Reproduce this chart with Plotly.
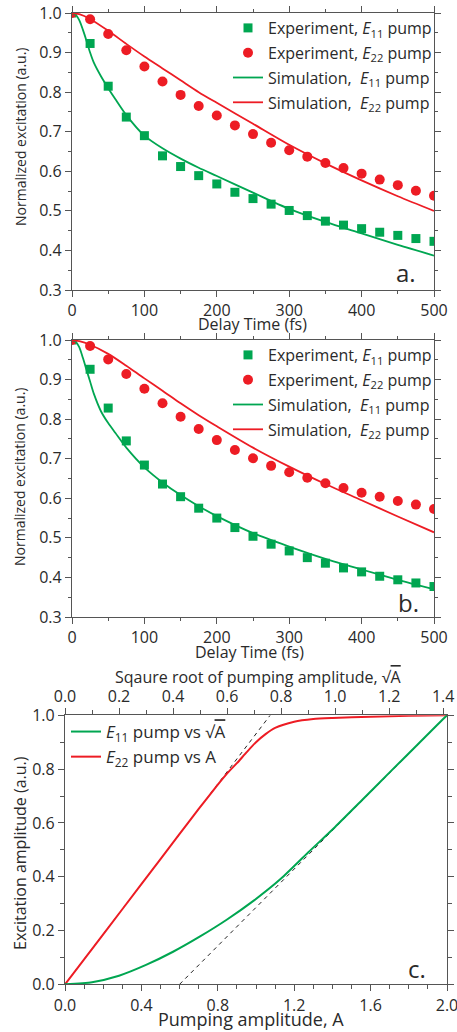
import plotly.graph_objects as go

# ---------------- data ----------------
t_exp = [0, 25, 50, 75, 100, 125, 150, 175, 200, 225, 250, 275, 300, 325, 350, 375, 400, 425, 450, 475, 500]

a_exp_e11 = [1.0, 0.923, 0.815, 0.737, 0.690, 0.639, 0.612, 0.589, 0.568, 0.547, 0.531, 0.517, 0.501, 0.488,
             0.474, 0.464, 0.455, 0.446, 0.438, 0.430, 0.423]
a_exp_e22 = [1.0, 0.984, 0.947, 0.906, 0.865, 0.827, 0.793, 0.765, 0.741, 0.716, 0.694, 0.672, 0.653, 0.637,
             0.621, 0.608, 0.594, 0.579, 0.565, 0.551, 0.538]

b_exp_e11 = [1.0, 0.926, 0.828, 0.745, 0.684, 0.636, 0.604, 0.575, 0.550, 0.526, 0.504, 0.484, 0.467, 0.450,
             0.436, 0.424, 0.414, 0.403, 0.394, 0.386, 0.377]
b_exp_e22 = [1.0, 0.985, 0.951, 0.914, 0.877, 0.840, 0.806, 0.775, 0.747, 0.722, 0.701, 0.682, 0.666, 0.652,
             0.638, 0.626, 0.614, 0.604, 0.593, 0.584, 0.573]

t_sim_e11 = [0, 5, 10, 15, 20, 25, 30, 40, 50, 60, 75, 100, 125, 150, 175, 200, 250, 300, 350, 400, 450, 500]
a_sim_e11 = [1.0, 0.996, 0.982, 0.958, 0.930, 0.900, 0.875, 0.840, 0.810, 0.782, 0.742, 0.690, 0.658, 0.632,
             0.609, 0.588, 0.546, 0.505, 0.472, 0.443, 0.414, 0.387]
b_sim_e11 = [1.0, 0.996, 0.982, 0.955, 0.925, 0.895, 0.865, 0.820, 0.790, 0.765, 0.728, 0.678, 0.640, 0.608,
             0.580, 0.555, 0.512, 0.478, 0.447, 0.420, 0.394, 0.370]

t_sim_e22 = [0, 10, 25, 50, 75, 100, 125, 150, 175, 200, 250, 300, 350, 400, 450, 500]
a_sim_e22 = [1.0, 0.997, 0.985, 0.955, 0.922, 0.890, 0.860, 0.830, 0.800, 0.773, 0.720, 0.667, 0.620, 0.577,
             0.537, 0.500]
b_sim_e22 = [1.0, 0.997, 0.988, 0.965, 0.935, 0.903, 0.872, 0.840, 0.810, 0.782, 0.728, 0.680, 0.636, 0.595,
             0.554, 0.514]

# panel c
pump_A = [0, 0.2, 0.4, 0.6, 0.7, 0.8, 0.85, 0.9, 0.95, 1.0, 1.05, 1.1, 1.2, 1.3, 1.4, 1.6, 1.8, 2.0]
c_e22 = [0, 0.186, 0.372, 0.559, 0.652, 0.742, 0.785, 0.822, 0.862, 0.900, 0.930, 0.953, 0.976, 0.986, 0.990,
         0.995, 0.998, 1.0]
sqrt_A = [0, 0.1, 0.2, 0.3, 0.4, 0.5, 0.6, 0.7, 0.8, 0.9, 1.0, 1.1, 1.2, 1.3, 1.4, 1.41421]
c_e11 = [0, 0.008, 0.032, 0.072, 0.121, 0.178, 0.241, 0.312, 0.393, 0.490, 0.585, 0.685, 0.786, 0.886, 0.986,
         1.0]
dash1_x = [0, 1.074]
dash1_y = [0, 1.0]
dash2_x = [0.6, 2.0]
dash2_y = [0, 1.0]

# ---------------- style ----------------
GREEN = "#00a651"
RED = "#ed1c24"
FONT = "Open Sans"
TXT = "#2a2a2a"
AX = "#555555"

W, H = 457, 1032


def px_x(p):
    return p / W


def px_y(p):
    return 1 - p / H


fig = go.Figure()

e11 = "<i>E</i><sub>11</sub>"
e22 = "<i>E</i><sub>22</sub>"

for k, (xa, ya, lg, e11d, e22d, s11, s22) in enumerate([
    ("x", "y", "legend", a_exp_e11, a_exp_e22, a_sim_e11, a_sim_e22),
    ("x2", "y2", "legend2", b_exp_e11, b_exp_e22, b_sim_e11, b_sim_e22),
]):
    fig.add_trace(go.Scatter(x=t_exp, y=e11d, mode="markers", xaxis=xa, yaxis=ya, legend=lg,
                             legendgroup=f"g{k}a",
                             marker=dict(symbol="square", size=9, color=GREEN),
                             name="Experiment, " + e11 + " pump"))
    fig.add_trace(go.Scatter(x=t_exp, y=e22d, mode="markers", xaxis=xa, yaxis=ya, legend=lg,
                             legendgroup=f"g{k}b",
                             marker=dict(symbol="circle", size=10, color=RED),
                             name="Experiment, " + e22 + " pump"))
    fig.add_trace(go.Scatter(x=t_sim_e11, y=s11, mode="lines", xaxis=xa, yaxis=ya, legend=lg,
                             legendgroup=f"g{k}c",
                             line=dict(color=GREEN, width=1.8, shape="spline", smoothing=0.8),
                             name="Simulation,  " + e11 + " pump"))
    fig.add_trace(go.Scatter(x=t_sim_e22, y=s22, mode="lines", xaxis=xa, yaxis=ya, legend=lg,
                             legendgroup=f"g{k}d",
                             line=dict(color=RED, width=1.8, shape="spline", smoothing=0.8),
                             name="Simulation,  " + e22 + " pump"))

# panel c
fig.add_trace(go.Scatter(x=dash1_x, y=dash1_y, mode="lines", xaxis="x3", yaxis="y3", showlegend=False,
                         line=dict(color="#222222", width=1, dash="4px,4px")))
fig.add_trace(go.Scatter(x=dash2_x, y=dash2_y, mode="lines", xaxis="x3", yaxis="y3", showlegend=False,
                         line=dict(color="#222222", width=1, dash="4px,4px")))
fig.add_trace(go.Scatter(x=sqrt_A, y=c_e11, mode="lines", xaxis="x4", yaxis="y3", legend="legend3",
                         line=dict(color=GREEN, width=2, shape="spline", smoothing=0.6),
                         name=e11 + " pump vs √<span style='text-decoration:overline'>A</span>"))
fig.add_trace(go.Scatter(x=pump_A, y=c_e22, mode="lines", xaxis="x3", yaxis="y3", legend="legend3",
                         line=dict(color=RED, width=2, shape="spline", smoothing=0.6),
                         name=e22 + " pump vs A"))

tickfont = dict(family=FONT, size=16, color=TXT)
common = dict(showline=True, linecolor=AX, linewidth=1.2, ticks="outside", tickcolor=AX, ticklen=6,
              tickwidth=1.2, showgrid=False, zeroline=False, tickfont=tickfont, automargin=False,
              ticklabeloverflow="allow")

xdom_ab = [px_x(72), px_x(434)]
xdom_c = [px_x(65), px_x(447)]

for i, (y0, y1) in enumerate([(290, 13), (617, 340)]):
    xn = "xaxis" if i == 0 else "xaxis2"
    yn = "yaxis" if i == 0 else "yaxis2"
    xa = "x" if i == 0 else "x2"
    ya = "y" if i == 0 else "y2"
    fig.update_layout(**{
        xn: dict(common, domain=xdom_ab, anchor=ya, range=[0, 500], dtick=100, mirror="ticks",
                 minor=dict(dtick=50, ticklen=3, ticks="outside", tickcolor=AX)),
        yn: dict(common, domain=[px_y(y0), px_y(y1)], anchor=xa, range=[0.3, 1.0], dtick=0.1,
                 tickformat=".1f", mirror="ticks",
                 minor=dict(dtick=0.05, ticklen=3, ticks="outside", tickcolor=AX)),
    })

fig.update_layout(
    xaxis3=dict(common, domain=xdom_c, anchor="y3", range=[0, 2.0], dtick=0.4, tickformat=".1f",
                minor=dict(dtick=0.1, ticklen=4, ticks="outside", tickcolor=AX)),
    xaxis4=dict(common, overlaying="x3", side="top", anchor="y3", range=[0, 1.41421], dtick=0.2,
                tickformat=".1f",
                minor=dict(dtick=0.1, ticklen=4, ticks="outside", tickcolor=AX)),
    yaxis3=dict(common, domain=[px_y(984.3), px_y(715.3)], anchor="x3", range=[0, 1.0], dtick=0.2,
                tickformat=".1f", mirror="ticks",
                minor=dict(dtick=0.1, ticklen=4, ticks="outside", tickcolor=AX)),
)

# axis titles (placed as text at exact positions)
titles = [
    ("Delay Time (fs)", 253, 324, 0, 16),
    ("Normalized excitation (a.u.)", 20, 137, -90, 14),
    ("Delay Time (fs)", 250, 652, 0, 16),
    ("Normalized excitation (a.u.)", 20, 477, -90, 14),
    ("Sqaure root of pumping amplitude, √<span style='text-decoration:overline'>A</span>", 258, 677, 0, 16),
    ("Pumping amplitude, A", 251, 1019, 0, 18),
    ("Excitation amplitude (a.u.)", 20, 853, -90, 16),
]
for txt, xp, yp, ang, sz in titles:
    fig.add_annotation(text=txt, x=px_x(xp), y=px_y(yp), xref="paper", yref="paper", showarrow=False,
                       textangle=ang, font=dict(family=FONT, size=sz, color=TXT),
                       xanchor="center", yanchor="middle")

legfont = dict(family=FONT, size=16, color=TXT)
fig.update_layout(
    legend=dict(x=px_x(437), y=px_y(11), xanchor="right", yanchor="top", bgcolor="rgba(0,0,0,0)",
                font=legfont, tracegroupgap=1, itemwidth=30),
    legend2=dict(x=px_x(437), y=px_y(338), xanchor="right", yanchor="top", bgcolor="rgba(0,0,0,0)",
                 font=legfont, tracegroupgap=1, itemwidth=30),
    legend3=dict(x=px_x(66), y=px_y(714), xanchor="left", yanchor="top", bgcolor="rgba(0,0,0,0)",
                 font=dict(family=FONT, size=17, color=TXT), itemwidth=30),
)

for txt, xp, yp in [("a.", 406, 272), ("b.", 408, 602), ("c.", 417, 968)]:
    fig.add_annotation(text=txt, x=px_x(xp), y=px_y(yp), xref="paper", yref="paper", showarrow=False,
                       font=dict(family=FONT, size=24, color=TXT), xanchor="center", yanchor="middle")

fig.update_layout(width=W, height=H, margin=dict(l=0, r=0, t=0, b=0, autoexpand=False),
                  paper_bgcolor="white", plot_bgcolor="white", showlegend=True)

fig.write_html("out.html", config={"displayModeBar": False},
               post_script="document.body.style.margin='0';document.body.style.overflow='hidden';")
